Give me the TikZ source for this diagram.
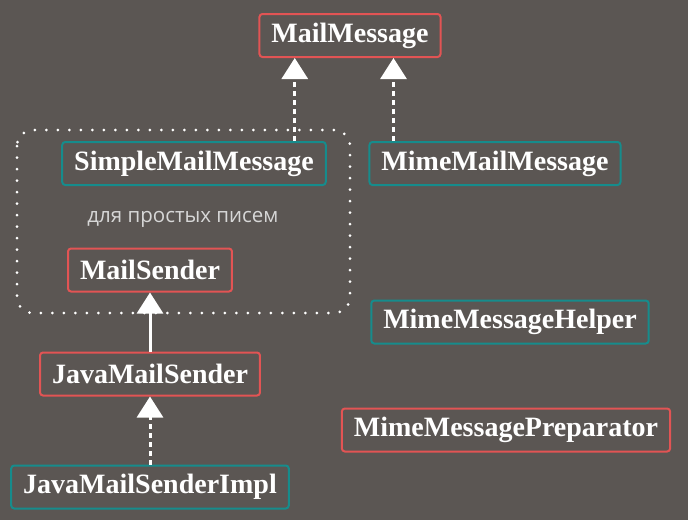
\documentclass[tikz,border=0pt]{standalone}
\usepackage{fontspec}
\setmainfont{Liberation Serif}
\newfontfamily\notefont{Open Sans}
\usetikzlibrary{
    arrows.meta,
    calc,
    positioning
}
\definecolor{bgrey}{RGB}{91,86,83}
\definecolor{ifred}{RGB}{226,84,84}
\definecolor{clteal}{RGB}{22,140,140}
\definecolor{notegrey}{RGB}{215,215,215}
\tikzset{cls/.style={draw, line width=2pt, rounded corners=3pt, text=white, fill=bgrey,
    font=\bfseries\fontsize{28}{28}\selectfont, inner xsep=12pt, minimum height=43pt}}
\tikzset{ifc/.style={cls, draw=ifred}}
\tikzset{impl/.style={cls, draw=clteal}}
\tikzset{realize/.style={white, line width=3pt, dash pattern=on 5pt off 4pt,
    -{Triangle[width=26pt,length=21pt]}}}
\tikzset{extend/.style={white, line width=3pt, -{Triangle[width=26pt,length=21pt]}}}

\begin{document}
\begin{tikzpicture}[x=1pt, y=-1pt]
                        \fill[bgrey] (0,0) rectangle (688,520);
                        \useasboundingbox (0,0) rectangle (688,520);

                        % group of simple mail classes
                        \draw[white, line width=3pt, line cap=round, dash pattern=on 0pt off 11.5pt,
                            rounded corners=16pt] (17,130) rectangle (350,313);

                        \node[ifc] (mm) at (350, 35.5) {MailMessage};
                        \node[impl] (smm) at (194, 163.5) {SimpleMailMessage};
                        \node[impl] (mmm) at (495, 163.5) {MimeMailMessage};
                        \node[text=notegrey, font=\notefont\fontsize{20.5}{20.5}\selectfont] (note) at (183, 219) {для простых писем};
                        \node[ifc] (ms) at (150, 270) {MailSender};
                        \node[ifc] (jms) at (150, 374) {JavaMailSender};
                        \node[impl] (jmsi) at (150, 487) {JavaMailSenderImpl};
                        \node[impl] (mmh) at (510, 322) {MimeMessageHelper};
                        \node[ifc] (mmp) at (506, 430) {MimeMessagePreparator};

                        \draw[realize] ([xshift=-32pt]smm.north east) -- ([xshift=-32pt]smm.north east |- mm.south);
                        \draw[realize] ([xshift=25pt]mmm.north west) -- ([xshift=25pt]mmm.north west |- mm.south);
                        \draw[extend] (jms.north) -- (ms.south);
                        \draw[realize] (jmsi.north) -- (jms.south);
                    \end{tikzpicture}
\end{document}
